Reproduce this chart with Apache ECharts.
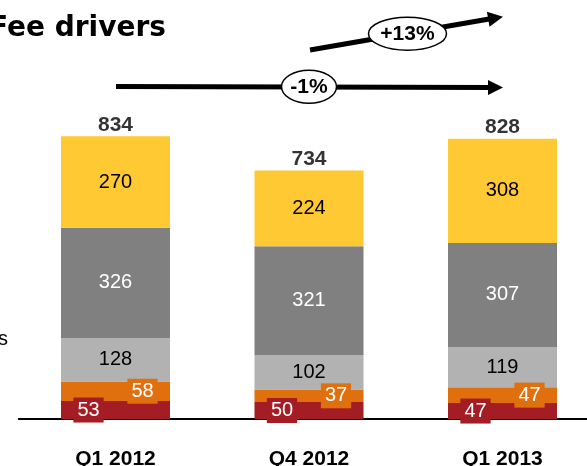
<!DOCTYPE html>
<html>
<head>
<meta charset="utf-8">
<title>Fee drivers</title>
<script src="https://cdn.jsdelivr.net/npm/echarts@6/dist/echarts.min.js"></script>
<style>
	html, body { margin: 0; padding: 0; background: #fff; }
	#chartContent { width: 587px; height: 466px; }
</style>
</head>
<body>
<div id="chartContent"></div>
<script>
var categories = ['Q1 2012', 'Q4 2012', 'Q1 2013'];
var redVals = [53, 50, 47];			//底部深红
var orangeVals = [58, 37, 47];
var lightGrayVals = [128, 102, 119];
var darkGrayVals = [326, 321, 307];
var yellowVals = [270, 224, 308];
var totals = [834, 734, 828];		//柱顶合计
var changeLabels = ['+13%', '-1%'];

window.onload = function() {
	var byId = function(id) {
		return document.getElementById(id);
	};
	var font = '"Liberation Sans", Arial, sans-serif';

	// 箭头: 线 + 三角
	function arrow(x1, y1, x2, y2) {
		var dx = x2 - x1, dy = y2 - y1;
		var len = Math.sqrt(dx * dx + dy * dy);
		var ux = dx / len, uy = dy / len;
		var headLen = 15, headW = 7.5;
		var bx = x2 - ux * headLen, by = y2 - uy * headLen;
		return [{
			type: 'line',
			shape: { x1: x1, y1: y1, x2: bx + ux, y2: by + uy },
			style: { stroke: '#000', lineWidth: 5 },
			z: 10
		}, {
			type: 'polygon',
			shape: { points: [[x2, y2], [bx - uy * headW, by + ux * headW], [bx + uy * headW, by - ux * headW]] },
			style: { fill: '#000' },
			z: 10
		}];
	}
	function bubble(cx, cy, rx, ry, text) {
		return [{
			type: 'ellipse',
			shape: { cx: cx, cy: cy, rx: rx, ry: ry },
			style: { fill: '#fff', stroke: '#000', lineWidth: 1.5 },
			z: 11
		}, {
			type: 'text',
			x: cx,
			y: cy + 1,
			style: { text: text, font: 'bold 21px ' + font, fill: '#000', align: 'center', verticalAlign: 'middle' },
			z: 12
		}];
	}

	var graphics = [{
		type: 'text',
		x: -11,
		y: 29,
		style: { text: 'Fee drivers', font: 'bold 28px "DejaVu Sans", sans-serif', fill: '#000', verticalAlign: 'middle' }
	}, {
		type: 'text',
		x: -2,
		y: 339,
		style: { text: 's', font: '20px ' + font, fill: '#000', verticalAlign: 'middle' }
	}];
	graphics = graphics
		.concat(arrow(310, 50, 503, 16.7))
		.concat(bubble(407.5, 33.7, 39, 16.5, changeLabels[0]))
		.concat(arrow(116, 86.5, 503, 87.5))
		.concat(bubble(309, 86.7, 27.5, 16.5, changeLabels[1]));

	var segment = function(name, data, color, textColor) {
		return {
			name: name,
			type: 'bar',
			stack: 'fees',
			data: data,
			barWidth: 109,
			itemStyle: { color: color },
			label: {
				show: true,
				position: 'inside',
				color: textColor,
				fontFamily: font,
				fontSize: 20
			},
			silent: true
		};
	};
	var smallSegment = function(name, data, color, dx) {
		var s = segment(name, data, color, '#fff');
		s.label.offset = [dx, 0];
		s.label.backgroundColor = color;
		s.label.padding = [3, 4, 2, 4];
		s.label.lineHeight = 20;
		return s;
	};

	var option = {
		animation: false,
		grid: { left: 18.75, width: 580.5, top: 80.5, height: 338.5, outerBoundsMode: 'none' },
		graphic: graphics,
		xAxis: {
			type: 'category',
			data: categories,
			axisLine: { lineStyle: { color: '#000', width: 2 } },
			axisTick: { show: false },
			axisLabel: { margin: 30, color: '#000', fontFamily: font, fontWeight: 'bold', fontSize: 21 }
		},
		yAxis: {
			type: 'value',
			min: 0,
			max: 1000,
			show: false,
			splitLine: { show: false }
		},
		series: [
			smallSegment('red', redVals, '#A51D24', -27),
			smallSegment('orange', orangeVals, '#E0700E', 27),
			segment('lightgray', lightGrayVals, '#B2B2B2', '#000'),
			segment('darkgray', darkGrayVals, '#808080', '#fff'),
			segment('yellow', yellowVals, '#FFC933', '#000'),
			{
				name: 'total',
				type: 'scatter',
				data: totals,
				symbolSize: 0,
				silent: true,
				label: {
					show: true,
					position: 'top',
					distance: 1,
					color: '#000',
					fontFamily: font,
					fontWeight: 'bold',
					fontSize: 21
				}
			}
		]
	};
	var chart = echarts.init(byId('chartContent'));
	chart.setOption(option);
};
</script>
</body>
</html>
